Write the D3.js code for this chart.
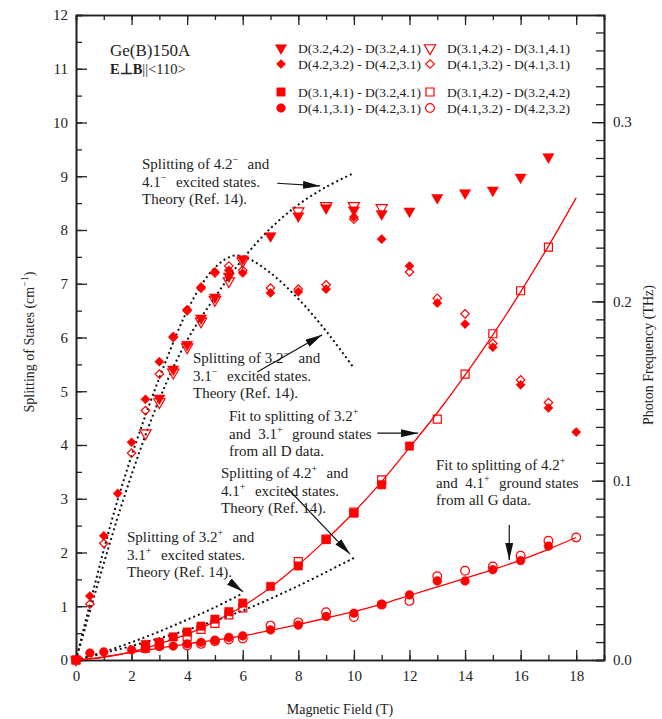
<!DOCTYPE html>
<html>
<head>
<meta charset="utf-8">
<script src="https://cdn.jsdelivr.net/npm/d3@7"></script>
<style>
  body { margin: 0; background: #fff; }
  text { font-family: "Liberation Serif", "Times New Roman", serif; fill: #222; }
</style>
</head>
<body>
<svg id="chart" width="662" height="719"></svg>
<script>
// field values (T) and splittings (cm^-1)
const triFilledB = [0, 3, 3.5, 4, 4.5, 5, 5.5, 6, 7, 8, 9, 10, 11, 12, 13, 14, 15, 16, 17];
const triFilledV = [0, 4.87, 5.41, 5.87, 6.36, 6.75, 7.14, 7.46, 7.89, 8.26, 8.41, 8.37, 8.30, 8.35, 8.60, 8.69, 8.74, 8.98, 9.36];
const triOpenB = [2.5, 3, 3.5, 4, 4.5, 5, 5.5, 6, 8, 9, 10, 11];
const triOpenV = [4.22, 4.80, 5.35, 5.82, 6.30, 6.70, 7.05, 7.42, 8.35, 8.45, 8.45, 8.41];
const diaFilledB = [0, 0.5, 1, 1.5, 2, 2.5, 3, 3.5, 4, 4.5, 5, 5.5, 6, 7, 8, 9, 10, 11, 12, 13, 14, 15, 16, 17, 18];
const diaFilledV = [0, 1.19, 2.31, 3.10, 4.05, 4.85, 5.55, 6.02, 6.52, 6.94, 7.22, 7.25, 7.20, 6.83, 6.85, 6.90, 8.24, 7.83, 7.33, 6.64, 6.25, 5.82, 5.12, 4.69, 4.24];
const diaOpenB = [0.5, 1, 2, 2.5, 3, 3.5, 4, 4.5, 5, 5.5, 6, 7, 8, 9, 10, 12, 13, 14, 15, 16, 17];
const diaOpenV = [1.04, 2.17, 3.85, 4.64, 5.32, 6.00, 6.50, 6.92, 7.20, 7.33, 7.25, 6.92, 6.90, 6.98, 8.20, 7.22, 6.73, 6.44, 5.89, 5.21, 4.79];
const sqFilledB = [0, 2.5, 3, 3.5, 4, 4.5, 5, 5.5, 6, 7, 8, 9, 10, 11, 12];
const sqFilledV = [0, 0.29, 0.33, 0.43, 0.52, 0.63, 0.76, 0.90, 1.06, 1.37, 1.75, 2.24, 2.73, 3.26, 3.98];
const sqOpenB = [0, 2.5, 3, 4, 4.5, 5, 5.5, 6, 8, 9, 10, 11, 13, 14, 15, 16, 17];
const sqOpenV = [0, 0.22, 0.28, 0.43, 0.57, 0.68, 0.84, 0.97, 1.83, 2.25, 2.75, 3.35, 4.48, 5.32, 6.07, 6.87, 7.68];
const cirFilledB = [0, 0.5, 1, 2, 2.5, 3, 3.5, 4, 4.5, 5, 5.5, 6, 7, 8, 9, 10, 11, 12, 13, 14, 15, 16, 17];
const cirFilledV = [0, 0.13, 0.15, 0.19, 0.21, 0.25, 0.26, 0.30, 0.33, 0.37, 0.42, 0.45, 0.56, 0.65, 0.81, 0.87, 1.04, 1.21, 1.47, 1.47, 1.68, 1.85, 2.12];
const cirOpenB = [4, 4.5, 5, 5.5, 6, 7, 8, 9, 10, 11, 12, 13, 14, 15, 16, 17, 18];
const cirOpenV = [0.27, 0.30, 0.35, 0.38, 0.40, 0.64, 0.70, 0.89, 0.80, 1.03, 1.10, 1.56, 1.66, 1.74, 1.94, 2.22, 2.28];

// fitted curves (red)
const fitDB = [0, 1, 2, 3, 4, 5, 6, 7, 8, 9, 10, 11, 12, 13, 14, 15, 16, 17, 18];
const fitDV = [0, 0.05, 0.15, 0.30, 0.48, 0.72, 1.00, 1.35, 1.77, 2.24, 2.75, 3.32, 3.95, 4.60, 5.30, 6.05, 6.85, 7.70, 8.60];
const fitGB = [0, 1, 2, 3, 4, 5, 6, 7, 8, 9, 10, 11, 12, 13, 14, 15, 16, 17, 18];
const fitGV = [0, 0.06, 0.14, 0.22, 0.30, 0.37, 0.45, 0.55, 0.66, 0.78, 0.90, 1.04, 1.20, 1.36, 1.52, 1.68, 1.86, 2.06, 2.28];

// theory curves (black dotted)
const th42mB = [0, 1.7, 3, 4, 5, 6, 7, 8, 9, 10];
const th42mV = [0, 2.98, 4.85, 5.95, 6.75, 7.46, 8.03, 8.47, 8.80, 9.06];
const th32mB = [0, 1.5, 3, 4.2, 5, 5.65, 6.15, 7, 8, 9, 10];
const th32mV = [0, 2.98, 5.25, 6.70, 7.30, 7.52, 7.48, 7.20, 6.72, 6.12, 5.43];
const th32pB = [0, 1, 2, 3, 4, 5, 6];
const th32pV = [0, 0.15, 0.33, 0.53, 0.75, 0.98, 1.24];
const th42pB = [0, 2, 4, 6, 8, 10];
const th42pV = [0, 0.26, 0.56, 0.92, 1.38, 1.90];

const xTicks = [0, 2, 4, 6, 8, 10, 12, 14, 16, 18];
const yTicks = [0, 1, 2, 3, 4, 5, 6, 7, 8, 9, 10, 11, 12];
const thzTicks = [0, 0.1, 0.2, 0.3];
const cmToTHz = 0.0299792;

const legendRows = [
  ["triF", "D(3.2,4.2) - D(3.2,4.1)", "triO", "D(3.1,4.2) - D(3.1,4.1)"],
  ["diaF", "D(4.2,3.2) - D(4.2,3.1)", "diaO", "D(4.1,3.2) - D(4.1,3.1)"],
  ["sqF", "D(3.1,4.1) - D(3.2,4.1)", "sqO", "D(3.1,4.2) - D(3.2,4.2)"],
  ["cirF", "D(4.1,3.1) - D(4.2,3.1)", "cirO", "D(4.1,3.2) - D(4.2,3.2)"]
];

const svg = d3.select("#chart");
const x = d3.scaleLinear().domain([0, 19]).range([76, 604]);
const y = d3.scaleLinear().domain([0, 12]).range([660, 15]);
const yR = d3.scaleLinear().domain([0, 12 * cmToTHz]).range([660, 15]);
const red = "#ff0000";

// axes, ticks pointing inward
function styleAxis(g) {
  g.selectAll("path.domain").attr("stroke", "#222").attr("stroke-width", 1.6);
  g.selectAll(".tick line").attr("stroke", "#222").attr("stroke-width", 1.3);
  g.selectAll("text").attr("font-size", 15).attr("fill", "#222")
    .attr("font-family", "Liberation Serif, serif");
}
svg.append("g").attr("transform", "translate(0,660)")
  .call(d3.axisBottom(x).tickValues(d3.range(0, 20, 1)).tickSize(-5).tickFormat("")).call(styleAxis);
svg.append("g").attr("transform", "translate(0,660)")
  .call(d3.axisBottom(x).tickValues(xTicks).tickSize(-10).tickSizeOuter(0).tickPadding(10).tickFormat(d3.format("d"))).call(styleAxis);
svg.append("g").attr("transform", "translate(0,15)")
  .call(d3.axisTop(x).tickValues(d3.range(0, 20, 1)).tickSize(-5).tickFormat("")).call(styleAxis);
svg.append("g").attr("transform", "translate(0,15)")
  .call(d3.axisTop(x).tickValues(xTicks).tickSize(-10).tickSizeOuter(0).tickFormat("")).call(styleAxis);
svg.append("g").attr("transform", "translate(76,0)")
  .call(d3.axisLeft(y).tickValues(d3.range(0, 12.5, 0.5)).tickSize(-6).tickFormat("")).call(styleAxis);
svg.append("g").attr("transform", "translate(76,0)")
  .call(d3.axisLeft(y).tickValues(yTicks).tickSize(-11).tickSizeOuter(0).tickPadding(8).tickFormat(d3.format("d"))).call(styleAxis);
svg.append("g").attr("transform", "translate(604,0)")
  .call(d3.axisRight(yR).tickValues(d3.range(0, 0.36, 0.01)).tickSize(-8).tickFormat("")).call(styleAxis);
svg.append("g").attr("transform", "translate(604,0)")
  .call(d3.axisRight(yR).tickValues(thzTicks).tickSize(-12).tickSizeOuter(0).tickPadding(9).tickFormat(d3.format(".1f"))).call(styleAxis);

// axis titles
svg.append("text").attr("x", 340).attr("y", 714).attr("text-anchor", "middle")
  .attr("font-size", 14).text("Magnetic Field (T)");
const yl = svg.append("text").attr("transform", "translate(34,342) rotate(-90)")
  .attr("text-anchor", "middle").attr("font-size", 14);
yl.append("tspan").text("Splitting of States (cm");
yl.append("tspan").attr("font-size", 10).attr("dy", -6).text("−1");
yl.append("tspan").attr("dy", 6).text(")");
svg.append("text").attr("transform", "translate(653,355) rotate(-90)")
  .attr("text-anchor", "middle").attr("font-size", 14).text("Photon Frequency (THz)");

// lines
const line = d3.line().x(d => x(d[0])).y(d => y(d[1])).curve(d3.curveMonotoneX);
const lineC = d3.line().x(d => x(d[0])).y(d => y(d[1])).curve(d3.curveCatmullRom);
function pairs(b, v) { return b.map((d, i) => [d, v[i]]); }

[[th42mB, th42mV], [th32mB, th32mV], [th32pB, th32pV], [th42pB, th42pV]].forEach(([b, v]) => {
  svg.append("path").attr("d", lineC(pairs(b, v))).attr("fill", "none")
    .attr("stroke", "#111").attr("stroke-width", 2).attr("stroke-dasharray", "2,3");
});
[[fitDB, fitDV], [fitGB, fitGV]].forEach(([b, v]) => {
  svg.append("path").attr("d", line(pairs(b, v))).attr("fill", "none")
    .attr("stroke", red).attr("stroke-width", 1.3);
});

// symbols
const sym = {
  triF: { type: d3.symbolTriangle, size: 55, rot: 180, fill: true },
  triO: { type: d3.symbolTriangle, size: 55, rot: 180, fill: false },
  diaF: { type: d3.symbolSquare, size: 42, rot: 45, fill: true },
  diaO: { type: d3.symbolSquare, size: 36, rot: 45, fill: false },
  sqF: { type: d3.symbolSquare, size: 70, rot: 0, fill: true },
  sqO: { type: d3.symbolSquare, size: 64, rot: 0, fill: false },
  cirF: { type: d3.symbolCircle, size: 60, rot: 0, fill: true },
  cirO: { type: d3.symbolCircle, size: 60, rot: 0, fill: false }
};
function drawSym(g, key, px, py) {
  const s = sym[key];
  g.append("path").attr("d", d3.symbol().type(s.type).size(s.size)())
    .attr("transform", `translate(${px},${py}) rotate(${s.rot})`)
    .attr("fill", s.fill ? red : "none").attr("stroke", red)
    .attr("stroke-width", s.fill ? 0.5 : 1.2);
}
const series = [
  ["cirO", cirOpenB, cirOpenV], ["cirF", cirFilledB, cirFilledV],
  ["sqO", sqOpenB, sqOpenV], ["sqF", sqFilledB, sqFilledV],
  ["diaO", diaOpenB, diaOpenV], ["diaF", diaFilledB, diaFilledV],
  ["triO", triOpenB, triOpenV], ["triF", triFilledB, triFilledV]
];
const pts = svg.append("g");
series.forEach(([key, b, v]) => {
  b.forEach((d, i) => drawSym(pts, key, x(d), y(v[i])));
});

// legend
const leg = svg.append("g");
legendRows.forEach((r, i) => {
  const yy = [48, 64, 92, 108][i];
  drawSym(leg, r[0], 281, yy);
  leg.append("text").attr("x", 298).attr("y", yy + 5).attr("font-size", 13.5).text(r[1]);
  drawSym(leg, r[2], 430, yy);
  leg.append("text").attr("x", 447).attr("y", yy + 5).attr("font-size", 13.5).text(r[3]);
});

// title
svg.append("text").attr("x", 110).attr("y", 56).attr("font-size", 17).text("Ge(B)150A");
const sub = svg.append("text").attr("x", 110).attr("y", 74).attr("font-size", 14.5);
sub.append("tspan").attr("font-weight", "bold").text("E⊥B");
sub.append("tspan").text("||<110>");

// annotations: "^x" marks a superscript character
const notes = [
  { x: 142, y: 169, lines: ["Splitting of 4.2^− and", "4.1^− excited states.", "Theory (Ref. 14)."] },
  { x: 193, y: 363, lines: ["Splitting of 3.2^− and", "3.1^− excited states.", "Theory (Ref. 14)."] },
  { x: 229, y: 421, lines: ["Fit to splitting of 3.2^+", "and  3.1^+ ground states", "from all D data."] },
  { x: 221, y: 478, lines: ["Splitting of 4.2^+ and", "4.1^+ excited states.", "Theory (Ref. 14)."] },
  { x: 127, y: 542, lines: ["Splitting of 3.2^+ and", "3.1^+ excited states.", "Theory (Ref. 14)."] },
  { x: 436, y: 470, lines: ["Fit to splitting of 4.2^+", "and  4.1^+ ground states", "from all G data."] }
];
notes.forEach(n => {
  n.lines.forEach((ln, i) => {
    const t = svg.append("text").attr("x", n.x).attr("y", n.y + i * 17.5)
      .attr("font-size", 15).attr("xml:space", "preserve");
    const m = ln.split("^");
    t.append("tspan").text(m[0]);
    if (m.length > 1) {
      t.append("tspan").attr("font-size", 10).attr("dy", -6).text(m[1][0]);
      t.append("tspan").attr("dy", 6).attr("dx", 2).text(" " + m[1].slice(1));
    }
  });
});

// arrows (field, splitting)
const arrows = [
  [7.24, 8.87, 8.78, 8.82],
  [6.52, 5.36, 8.86, 6.05],
  [10.84, 4.22, 12.31, 4.22],
  [7.6, 3.2, 9.86, 1.97],
  [5.54, 1.45, 6.01, 1.27],
  [15.59, 2.51, 15.59, 1.86]
];
svg.append("defs").append("marker").attr("id", "ah")
  .attr("viewBox", "0 0 17 8").attr("refX", 17).attr("refY", 4)
  .attr("markerWidth", 17).attr("markerHeight", 8).attr("markerUnits", "userSpaceOnUse")
  .attr("orient", "auto")
  .append("path").attr("d", "M0,0 L17,4 L0,8 Z").attr("fill", "#111");
arrows.forEach(a => {
  svg.append("line").attr("x1", x(a[0])).attr("y1", y(a[1])).attr("x2", x(a[2])).attr("y2", y(a[3]))
    .attr("stroke", "#111").attr("stroke-width", 1.2).attr("marker-end", "url(#ah)");
});
</script>
</body>
</html>
